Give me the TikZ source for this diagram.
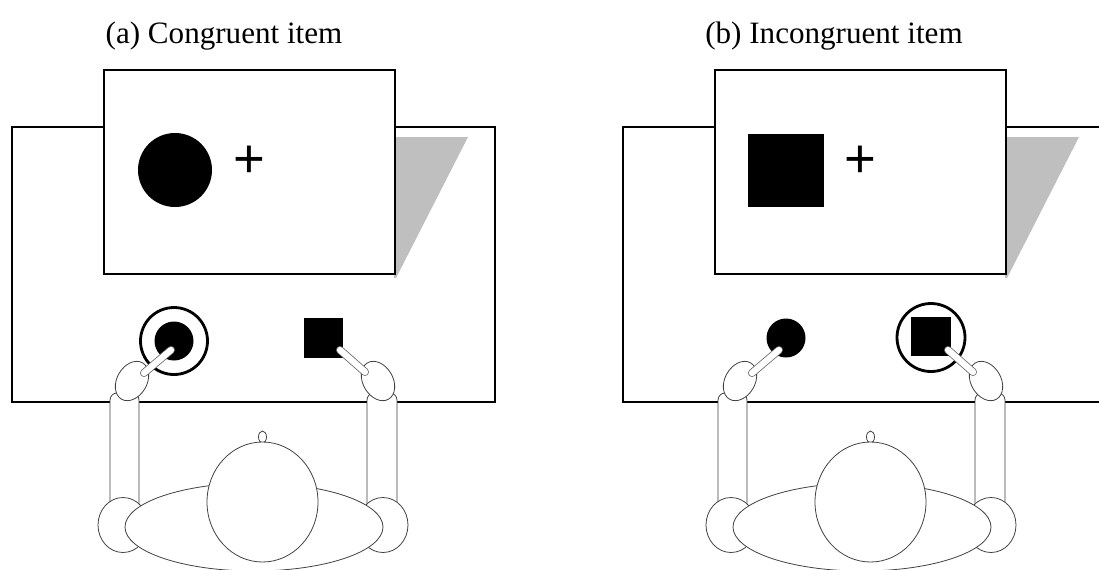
\documentclass[tikz,border=0pt]{standalone}
\usepackage{fontspec}
\setmainfont{Liberation Serif}
\newfontfamily\crossfont{Liberation Sans}
\usepackage{tikz}
\usetikzlibrary{calc}

\tikzset{
  desk/.style={draw=black, line width=1.4pt, fill=white},
  screen/.style={draw=black, line width=1.4pt, fill=white},
  screenshade/.style={fill=black!25},
  ring/.style={draw=black, line width=1.6pt, fill=white},
  limb/.style={draw=black!75, line width=0.45pt, fill=white},
  finger/.style={draw=black!60, line width=0.45pt, double=white, double distance=3.6pt, line cap=round},
  caption/.style={inner sep=0pt, font=\fontsize{17.7}{21}\selectfont},
  cross/.style={inner sep=0pt, font=\crossfont\fontsize{31}{31}\selectfont}
}

% the person seen from above, both hands on the buttons
\newcommand\seatedperson{%
  \draw[limb, rounded corners=4pt] (110,393) rectangle (139,512);
  \draw[limb, rounded corners=4pt] (367,393) rectangle (397,512);
  \draw[limb] (123,525) ellipse [x radius=25, y radius=27.5];
  \draw[limb] (383,525) ellipse [x radius=25, y radius=27.5];
  \draw[limb] (254,527) ellipse [x radius=129, y radius=44];
  \draw[limb] (262.5,437) ellipse [x radius=4, y radius=6];
  \draw[limb] (262.5,502) ellipse [x radius=55.5, y radius=60];
  \draw[limb, rotate around={60:(132,381)}] (132,381) ellipse [x radius=21, y radius=15];
  \draw[limb, rotate around={-60:(378,381)}] (378,381) ellipse [x radius=21, y radius=15];
  \draw[finger] (144,373) -- (171,350);
  \draw[finger] (340,350) -- (365,372);
}

% table with monitor and its shadow
\newcommand\deskset{%
  \draw[desk] (12,127) rectangle (495,402);
  \fill[screenshade] (394,137) -- (468,137) -- (396,278) -- (394,278) -- cycle;
  \draw[screen] (104,70) rectangle (395,274);
}

\begin{document}
\begin{tikzpicture}[x=0.02cm, y=-0.02cm]
\useasboundingbox (0,0) rectangle (1099,569);
\clip (0,0) rectangle (1099,569);

% (a) congruent
\node[caption] (capa) at (224,36) {(a) Congruent item};
\begin{scope}
  \deskset
  \fill (175,170) circle (37);
  \node[cross] (fixa) at (249.5,162) {+};
  \draw[ring] (174,341) circle (33.5);
  \fill (174,341) circle (19.5);
  \fill (304,318) rectangle (343,358);
\end{scope}
\begin{scope}
  \seatedperson
\end{scope}

% (b) incongruent
\node[caption] (capb) at (834,36) {(b) Incongruent item};
\begin{scope}[shift={(611,0)}]
  \deskset
  \fill (137,134) rectangle (213,207);
  \node[cross] (fixb) at (249.5,162) {+};
  \fill (175,338) circle (19.5);
  \draw[ring] (320,337.5) circle (34);
  \fill (300,317) rectangle (340,356);
\end{scope}
\begin{scope}[shift={(608,0)}]
  \seatedperson
\end{scope}
\end{tikzpicture}
\end{document}
